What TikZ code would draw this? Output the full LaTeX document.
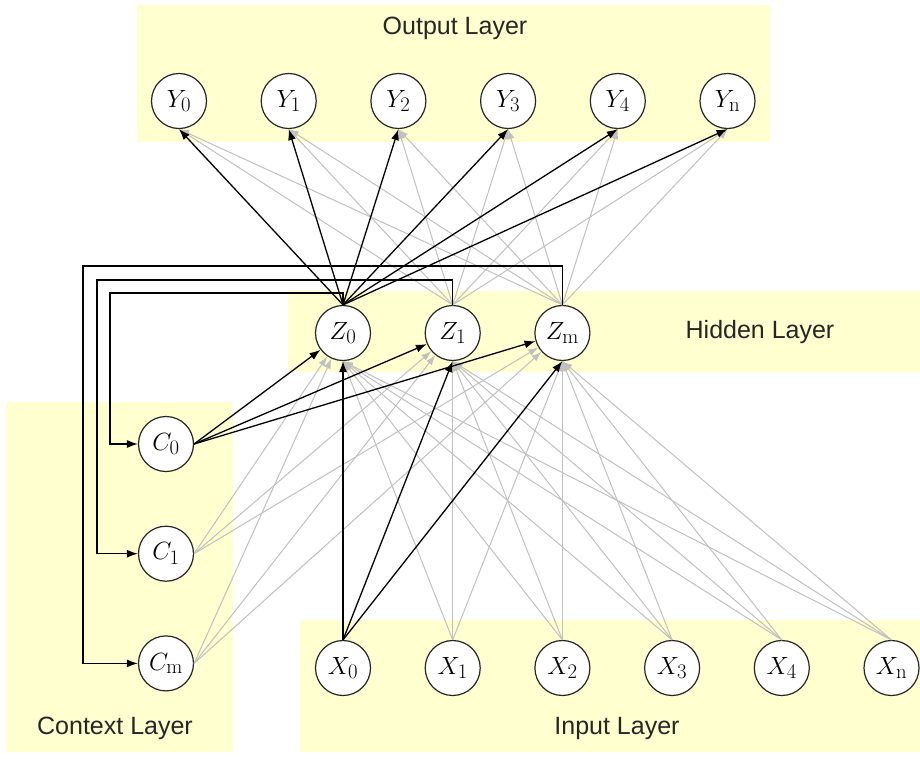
\documentclass[tikz,border=0pt]{standalone}
\usepackage{fontspec}
\setsansfont{Liberation Sans}
\usetikzlibrary{arrows,arrows.meta,positioning}
\definecolor{layerfill}{RGB}{255,255,208}
\definecolor{weakgray}{RGB}{192,192,192}
\tikzstyle{neuron}=[
	circle,
	draw=black!85,
	line width=1.2pt,
	fill=white,
	inner sep=0pt,
	minimum size=55pt,
	font=\Huge,
	node distance=53.5pt
]
\tikzstyle{layerlabel}=[
	font=\sffamily\fontsize{25}{30}\selectfont,
	text=black!85
]
\tikzstyle{weight}=[
	->,
	>={Latex[length=10pt,width=7pt]},
	draw=weakgray,
	line width=1pt
]
\tikzstyle{strong}=[
	->,
	>={Latex[length=11pt,width=8pt]},
	black,
	line width=1.3pt
]
\tikzstyle{recurrent}=[
	->,
	>={Latex[length=11pt,width=8pt]},
	black,
	line width=1.3pt
]

\begin{document}
\begin{tikzpicture}[x=1pt,y=-1pt]
\useasboundingbox (0,0) rectangle (920,758);
% layer backgrounds
\fill [layerfill] (137,5) rectangle (770,142);
\fill [layerfill] (288,291) rectangle (920,372);
\fill [layerfill] (6,402) rectangle (233,752);
\fill [layerfill] (300,620) rectangle (920,752);
\node [layerlabel] (OutputLabel) at (455,28) {Output Layer};
\node [layerlabel] (HiddenLabel) at (760,332) {Hidden Layer};
\node [layerlabel] (ContextLabel) at (115,728) {Context Layer};
\node [layerlabel] (InputLabel) at (617,728) {Input Layer};
% output layer
\node [neuron] (Y0) at (179,101) {$Y_0$};
\node [neuron] (Y1) [right=of Y0] {$Y_1$};
\node [neuron] (Y2) [right=of Y1] {$Y_2$};
\node [neuron] (Y3) [right=of Y2] {$Y_3$};
\node [neuron] (Y4) [right=of Y3] {$Y_4$};
\node [neuron] (Yn) [right=of Y4] {$Y_{\mathrm{n}}$};
% hidden layer
\node [neuron] (Z0) at (343,333) {$Z_0$};
\node [neuron] (Z1) [right=of Z0] {$Z_1$};
\node [neuron] (Zm) [right=of Z1] {$Z_{\mathrm{m}}$};
% context layer
\node [neuron] (C0) at (166,444) {$C_0$};
\node [neuron] (C1) [below=of C0] {$C_1$};
\node [neuron] (Cm) [below=of C1] {$C_{\mathrm{m}}$};
% input layer
\node [neuron] (X0) at (343,668) {$X_0$};
\node [neuron] (X1) [right=of X0] {$X_1$};
\node [neuron] (X2) [right=of X1] {$X_2$};
\node [neuron] (X3) [right=of X2] {$X_3$};
\node [neuron] (X4) [right=of X3] {$X_4$};
\node [neuron] (Xn) [right=of X4] {$X_{\mathrm{n}}$};
% weak connections
\foreach \z in {Z1,Zm}
	\foreach \y in {Y0,Y1,Y2,Y3,Y4,Yn}
		\draw [weight] (\z.north) -- (\y.south);
\foreach \x in {X1,X2,X3,X4,Xn}
	\foreach \z in {Z0,Z1,Zm}
		\draw [weight] (\x.north) -- (\z.south);
\foreach \c in {C1,Cm}
	\foreach \z in {Z0,Z1,Zm}
		\draw [weight] (\c.east) -- (\z);
% highlighted connections
\foreach \y in {Y0,Y1,Y2,Y3,Y4,Yn}
	\draw [strong] (Z0.north) -- (\y.south);
\foreach \z in {Z0,Z1,Zm} {
	\draw [strong] (X0.north) -- (\z.south);
	\draw [strong] (C0.east) -- (\z);
}
% copy back to context
\coordinate (Turn0) at (110,293);
\coordinate (Turn1) at (97,280);
\coordinate (TurnM) at (83,266);
\draw [recurrent] (Z0.north) |- (Turn0) |- (C0.west);
\draw [recurrent] (Z1.north) |- (Turn1) |- (C1.west);
\draw [recurrent] (Zm.north) |- (TurnM) |- (Cm.west);
\end{tikzpicture}
\end{document}
